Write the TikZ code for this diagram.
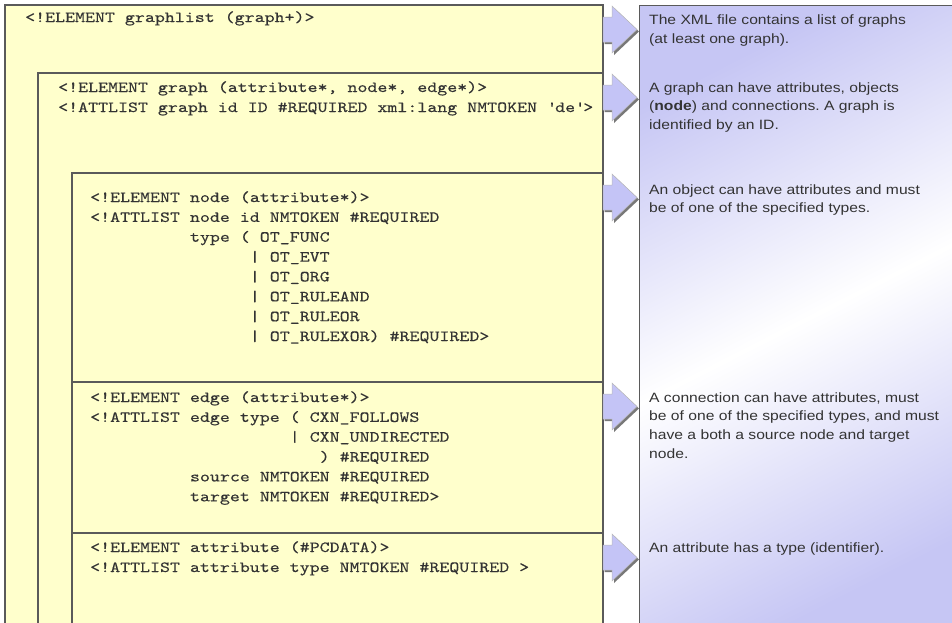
\documentclass[tikz,border=0pt]{standalone}
\usepackage{fontspec}
\newfontfamily\codefont[FakeStretch=1.226, FakeBold=0.25]{lmmono10-regular.otf}
\newfontfamily\descfont[FakeStretch=1.16]{Liberation Sans}
\definecolor{boxyellow}{HTML}{FFFFCC}
\definecolor{lav}{HTML}{C4C4F6}
\definecolor{panellav}{HTML}{C6C6F4}
\definecolor{bordergray}{HTML}{5A5A5A}
\definecolor{txt}{HTML}{333333}
\tikzset{
  codeline/.style={anchor=base west, inner sep=0pt, text=txt,
    font=\codefont\fontsize{15.5}{20}\selectfont},
  descline/.style={anchor=base west, inner sep=0pt, text=txt,
    font=\descfont\fontsize{13.5}{19}\selectfont},
  dtdbox/.style={draw=bordergray, line width=1.2pt, fill=boxyellow},
  blockarrow/.pic={
    \fill[gray!60!black, opacity=0.75] (1.5,14) -- (11,14) -- (11,3) -- (36,26.5) -- (11,50) -- (11,39) -- (1.5,39) -- cycle;
    \filldraw[fill=lav, draw=gray!55, line width=0.5pt] (0,12) -- (9,12) -- (9,1) -- (34,24.5) -- (9,48) -- (9,37) -- (0,37) -- cycle;
  }
}
\begin{document}
\frenchspacing
\begin{tikzpicture}[x=1pt, y=-1pt]
\useasboundingbox (0,0) rectangle (952,622);
\clip (0,0) rectangle (952,622);
\fill[white] (0,0) rectangle (952,622);

% right explanation panel
\shade[top color=panellav, bottom color=panellav, middle color=white, shading angle=27]
  (639,5) rectangle (960,640);
\draw[bordergray, line width=1pt] (639,640) -- (639,5) -- (960,5);

% nested DTD boxes
\draw[dtdbox] (5,5) rectangle (603,640);
\draw[dtdbox] (38,73) rectangle (603,640);
\draw[dtdbox] (72,173) rectangle (603,640);
\draw[dtdbox] (72,382) rectangle (603,640);
\draw[dtdbox] (72,533) rectangle (603,640);

% code lines
\node[codeline] (gl1) at (25,22) {<!ELEMENT graphlist (graph+)>};

\node[codeline] (g1) at (58,92) {<!ELEMENT graph (attribute*, node*, edge*)>};
\node[codeline] (g2) at (58,112) {<!ATTLIST graph id ID \#REQUIRED xml:lang NMTOKEN \textquotesingle de\textquotesingle>};

\node[codeline] (n1) at (90,202) {<!ELEMENT node (attribute*)>};
\node[codeline] (n2) at (90,221.9) {<!ATTLIST node id NMTOKEN \#REQUIRED};
\node[codeline] (n3) at (189.8,241.7) {type ( OT\_FUNC};
\node[codeline] (n4) at (249.7,261.6) {| OT\_EVT};
\node[codeline] (n5) at (249.7,281.4) {| OT\_ORG};
\node[codeline] (n6) at (249.7,301.3) {| OT\_RULEAND};
\node[codeline] (n7) at (249.7,321.2) {| OT\_RULEOR};
\node[codeline] (n8) at (249.7,341) {| OT\_RULEXOR) \#REQUIRED>};

\node[codeline] (e1) at (90,402) {<!ELEMENT edge (attribute*)>};
\node[codeline] (e2) at (90,421.9) {<!ATTLIST edge type ( CXN\_FOLLOWS};
\node[codeline] (e3) at (289.6,441.7) {| CXN\_UNDIRECTED};
\node[codeline] (e4) at (319.5,461.6) {) \#REQUIRED};
\node[codeline] (e5) at (189.8,481.4) {source NMTOKEN \#REQUIRED};
\node[codeline] (e6) at (189.8,501.3) {target NMTOKEN \#REQUIRED>};

\node[codeline] (a1) at (90,552) {<!ELEMENT attribute (\#PCDATA)>};
\node[codeline] (a2) at (90,572) {<!ATTLIST attribute type NMTOKEN \#REQUIRED >};

% block arrows
\pic at (603,5) {blockarrow};
\pic at (603,73) {blockarrow};
\pic at (603,173) {blockarrow};
\pic at (603,382) {blockarrow};
\pic at (603,533) {blockarrow};

% explanations
\node[descline] (d11) at (649,24) {The XML file contains a list of graphs};
\node[descline] (d12) at (649,43) {(at least one graph).};

\node[descline] (d21) at (649,92) {A graph can have attributes, objects};
\node[descline] (d22) at (649,110.7) {(\textbf{node}) and connections. A graph is};
\node[descline] (d23) at (649,129.4) {identified by an ID.};

\node[descline] (d31) at (649,194) {An object can have attributes and must};
\node[descline] (d32) at (649,212.7) {be of one of the specified types.};

\node[descline] (d41) at (649,402) {A connection can have attributes, must};
\node[descline] (d42) at (649,420.7) {be of one of the specified types, and must};
\node[descline] (d43) at (649,439.4) {have a both a source node and target};
\node[descline] (d44) at (649,458.1) {node.};

\node[descline] (d51) at (649,552) {An attribute has a type (identifier).};
\end{tikzpicture}
\end{document}
